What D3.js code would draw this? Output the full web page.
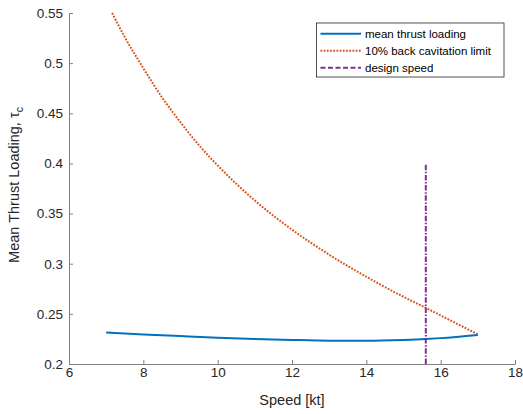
<!DOCTYPE html>
<html>
<head>
<meta charset="utf-8">
<script src="https://cdn.jsdelivr.net/npm/d3@7/dist/d3.min.js"></script>
<style>
  html, body { margin: 0; padding: 0; background: #fff; }
  svg { display: block; font-family: "Liberation Sans", Arial, Helvetica, sans-serif; }
</style>
</head>
<body>
<svg id="chart" width="523" height="414"></svg>
<script>
// Mean thrust loading vs ship speed
const speedMean = [7, 8, 9, 10, 11, 12, 13, 14, 15, 15.6, 16, 17];
const tauMean   = [0.2315, 0.2295, 0.2278, 0.2262, 0.2250, 0.2240, 0.2233, 0.2232, 0.2240, 0.2249, 0.2258, 0.2290];

// 10% back cavitation limit
const speedCav = [7.16, 7.5, 8, 8.5, 9, 9.5, 10, 11, 12, 13, 14, 15, 15.6, 16, 16.5, 17];
const tauCav   = [0.550, 0.526, 0.495, 0.466, 0.441, 0.418, 0.398, 0.363, 0.334, 0.309, 0.287, 0.267, 0.256, 0.2484, 0.239, 0.2296];

// Design speed marker
const designSpeed = 15.6;
const designRange = [0.2, 0.4];

const xTicks = [6, 8, 10, 12, 14, 16, 18];
const yTicks = [0.2, 0.25, 0.3, 0.35, 0.4, 0.45, 0.5, 0.55];
const legendLabels = ["mean thrust loading", "10% back cavitation limit", "design speed"];

const colors = { mean: "#0072BD", cav: "#D95319", design: "#7E2F8E" };
const textColor = "#262626";
const axisColor = "#808080";
const dotted = "1.8,1.4";
const dashDot = "5.5,1.6,1.5,1.6";

const svg = d3.select("#chart");
const m = { left: 69, right: 515, top: 13, bottom: 364 };

const x = d3.scaleLinear().domain([6, 18]).range([m.left, m.right]);
const y = d3.scaleLinear().domain([0.2, 0.55]).range([m.bottom, m.top]);

// Axes with inward ticks
const xAxis = d3.axisBottom(x).tickValues(xTicks).tickSize(-4).tickSizeOuter(0).tickPadding(3.5)
  .tickFormat(d3.format("d"));
const yAxis = d3.axisLeft(y).tickValues(yTicks).tickSize(-4).tickSizeOuter(0).tickPadding(6)
  .tickFormat(d => String(+d.toFixed(2)));

const gx = svg.append("g").attr("transform", `translate(0,${m.bottom})`).call(xAxis);
const gy = svg.append("g").attr("transform", `translate(${m.left},0)`).call(yAxis);

[gx, gy].forEach(g => {
  g.select(".domain").attr("stroke", axisColor);
  g.selectAll(".tick line").attr("stroke", axisColor);
  g.selectAll(".tick text").attr("fill", textColor).style("font-size", "13.5px")
    .style("font-family", "'Liberation Sans', Arial, sans-serif");
});

// Axis titles
svg.append("text")
  .attr("x", (m.left + m.right) / 2).attr("y", 405)
  .attr("text-anchor", "middle").attr("fill", textColor)
  .style("font-size", "14.5px").text("Speed [kt]");

const yl = svg.append("text")
  .attr("transform", `translate(19,185) rotate(-90)`)
  .attr("text-anchor", "middle").attr("fill", textColor)
  .style("font-size", "14.5px");
yl.append("tspan").text("Mean Thrust Loading, ");
yl.append("tspan").text("τ");
yl.append("tspan").attr("dy", 4).style("font-size", "10.5px").text("c");

const line = d3.line().x(d => x(d[0])).y(d => y(d[1])).curve(d3.curveMonotoneX);

svg.append("path")
  .datum(d3.zip(speedCav, tauCav))
  .attr("d", line).attr("fill", "none")
  .attr("stroke", colors.cav).attr("stroke-width", 2).attr("stroke-dasharray", dotted);

svg.append("path")
  .datum(d3.zip(speedMean, tauMean))
  .attr("d", line).attr("fill", "none")
  .attr("stroke", colors.mean).attr("stroke-width", 2);

svg.append("line")
  .attr("x1", x(designSpeed)).attr("x2", x(designSpeed))
  .attr("y1", y(designRange[0])).attr("y2", y(designRange[1]))
  .attr("stroke", colors.design).attr("stroke-width", 2)
  .attr("stroke-dasharray", dashDot);

// Legend
const lg = svg.append("g").attr("transform", "translate(316.5,23)");
lg.append("rect").attr("width", 187.5).attr("height", 54)
  .attr("fill", "#fff").attr("stroke", "#262626").attr("stroke-width", 0.8);
const styles = [
  { c: colors.mean, dash: null },
  { c: colors.cav, dash: dotted },
  { c: colors.design, dash: "5,2.5" }
];
legendLabels.forEach((t, i) => {
  const yy = 10.7 + i * 17;
  lg.append("line").attr("x1", 4).attr("x2", 44.5).attr("y1", yy).attr("y2", yy)
    .attr("stroke", styles[i].c).attr("stroke-width", 2)
    .attr("stroke-dasharray", styles[i].dash);
  lg.append("text").attr("x", 48.5).attr("y", yy + 4).attr("fill", "#000")
    .style("font-size", "11.5px").text(t);
});
</script>
</body>
</html>
